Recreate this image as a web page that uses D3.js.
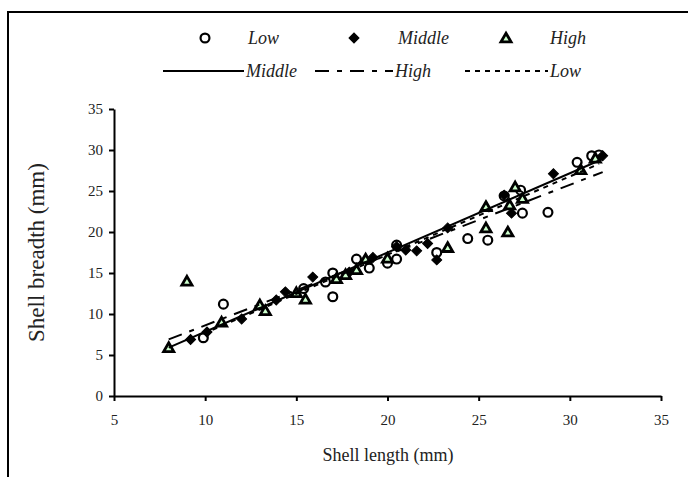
<!DOCTYPE html>
<html><head><meta charset="utf-8">
<script src="https://cdn.jsdelivr.net/npm/d3@7"></script>
<style>
html,body{margin:0;padding:0;background:#fff;}
svg{display:block;}
text{font-family:"Liberation Serif","DejaVu Serif",serif;fill:#222;}
</style></head>
<body>
<script>
// ---- data ----
const xTicks = [5, 10, 15, 20, 25, 30, 35];
const yTicks = [0, 5, 10, 15, 20, 25, 30, 35];
const lowLength    = [9.9, 11.0, 15.4, 16.6, 17.0, 17.0, 18.3, 19.0, 20.0, 20.5, 20.5, 22.7, 24.4, 25.5, 26.4, 27.3, 27.4, 28.8, 30.4, 31.2, 31.6];
const lowBreadth   = [7.1, 11.2, 13.1, 13.9, 15.0, 12.1, 16.7, 15.6, 16.2, 16.7, 18.4, 17.5, 19.2, 19.0, 24.4, 25.1, 22.3, 22.4, 28.5, 29.3, 29.4];
const midLength    = [9.2, 10.1, 12.0, 13.9, 14.4, 15.9, 17.9, 19.2, 20.5, 21.0, 21.6, 22.2, 22.7, 23.3, 26.4, 26.8, 29.1, 31.8];
const midBreadth   = [6.9, 7.8, 9.4, 11.7, 12.7, 14.5, 15.1, 16.9, 18.2, 17.8, 17.7, 18.6, 16.6, 20.5, 24.5, 22.3, 27.1, 29.3];
const highLength   = [8.0, 9.0, 10.9, 13.0, 13.3, 15.0, 15.5, 17.2, 17.7, 18.3, 18.8, 20.0, 23.3, 25.4, 25.4, 26.6, 26.7, 27.0, 27.4, 30.6, 31.4];
const highBreadth  = [5.9, 14.0, 9.0, 11.1, 10.4, 12.6, 11.8, 14.3, 14.8, 15.4, 16.7, 16.8, 18.1, 23.1, 20.5, 20.0, 23.3, 25.5, 24.1, 27.6, 29.0];
// trend lines (start/end)
const midTrendX  = [8.0, 31.8];
const midTrendY  = [5.9, 28.9];
const highTrendX = [8.0, 31.8];
const highTrendY = [6.9, 27.3];
const lowTrendX  = [9.9, 31.6];
const lowTrendY  = [7.6, 28.3];
const legendMarkers = ["Low", "Middle", "High"];
const legendLines = ["Middle", "High", "Low"];

const W = 688, H = 477;
const svg = d3.select("body").append("svg").attr("width", W).attr("height", H);

// frame (top + left)
svg.append("path").attr("d", d3.line()([[8, 477], [8, 12], [688, 12]]))
  .attr("fill", "none").attr("stroke", "#000").attr("stroke-width", 2);

const x = d3.scaleLinear().domain([5, 35]).range([114, 661]);
const y = d3.scaleLinear().domain([0, 35]).range([396, 109]);

const xAxis = svg.append("g").attr("transform", `translate(0,${y(0)})`)
  .call(d3.axisBottom(x).tickValues(xTicks).tickSizeInner(5).tickSizeOuter(0).tickPadding(13));
const yAxis = svg.append("g").attr("transform", `translate(${x(5)},0)`)
  .call(d3.axisLeft(y).tickValues(yTicks).tickSizeInner(5).tickSizeOuter(0).tickPadding(6));
[xAxis, yAxis].forEach(g => {
  g.select(".domain").attr("stroke", "#000").attr("stroke-width", 2);
  g.selectAll(".tick line").attr("stroke", "#000").attr("stroke-width", 2);
  g.selectAll(".tick text").attr("font-size", 15).attr("fill", "#222")
    .attr("font-family", "Liberation Serif, serif");
});

svg.append("text").attr("x", 388).attr("y", 461).attr("text-anchor", "middle")
  .attr("font-size", 18).text("Shell length (mm)");
svg.append("text").attr("transform", `translate(44,${(y(0) + y(35)) / 2}) rotate(-90)`)
  .attr("text-anchor", "middle").attr("font-size", 23).text("Shell breadth (mm)");

// markers
const circleSym = d3.symbol().type(d3.symbolCircle).size(62);
const diamondSym = d3.symbol().type(d3.symbolSquare).size(50);
const triSym = d3.symbol().type(d3.symbolTriangle).size(44);

function drawLow(g, px, py) {
  g.append("path").attr("d", circleSym()).attr("transform", `translate(${px},${py})`)
    .attr("fill", "#fff").attr("stroke", "#000").attr("stroke-width", 2.2);
}
function drawMid(g, px, py) {
  g.append("path").attr("d", diamondSym()).attr("transform", `translate(${px},${py}) rotate(45)`)
    .attr("fill", "#000").attr("stroke", "#000").attr("stroke-width", 1);
}
function drawHigh(g, px, py) {
  g.append("path").attr("d", triSym()).attr("transform", `translate(${px},${py + 1})`)
    .attr("fill", "#ccffcc").attr("stroke", "#000").attr("stroke-width", 2.8)
    .attr("stroke-linejoin", "miter");
}

const pts = svg.append("g");
lowLength.forEach((v, i) => drawLow(pts, x(v), y(lowBreadth[i])));
midLength.forEach((v, i) => drawMid(pts, x(v), y(midBreadth[i])));
highLength.forEach((v, i) => drawHigh(pts, x(v), y(highBreadth[i])));

// trend lines
const line = d3.line();
function trend(xs, ys, dash) {
  svg.append("path").attr("d", line(xs.map((v, i) => [x(v), y(ys[i])])))
    .attr("fill", "none").attr("stroke", "#000").attr("stroke-width", 2)
    .attr("stroke-dasharray", dash);
}
trend(midTrendX, midTrendY, null);
trend(highTrendX, highTrendY, "14,8,5,8");
trend(lowTrendX, lowTrendY, "5,5");

// legend
const lg = svg.append("g");
const row1 = 38, row2 = 71;
const mX = [205, 354, 506], tX = [248, 398, 550];
legendMarkers.forEach((name, i) => {
  if (i === 0) drawLow(lg, mX[i], row1);
  if (i === 1) drawMid(lg, mX[i], row1);
  if (i === 2) drawHigh(lg, mX[i], row1);
  lg.append("text").attr("x", tX[i]).attr("y", row1 + 6).attr("font-size", 18)
    .attr("font-style", "italic").text(name);
});
const lStart = [163, 315, 465], lEnd = [244, 393, 548];
const lDash = [null, "14,8,5,8", "5,5"];
legendLines.forEach((name, i) => {
  lg.append("path").attr("d", line([[lStart[i], row2], [lEnd[i], row2]]))
    .attr("stroke", "#000").attr("stroke-width", 2).attr("stroke-dasharray", lDash[i]);
  lg.append("text").attr("x", lEnd[i] + 2).attr("y", row2 + 6).attr("font-size", 18)
    .attr("font-style", "italic").text(name);
});
</script>
</body></html>
